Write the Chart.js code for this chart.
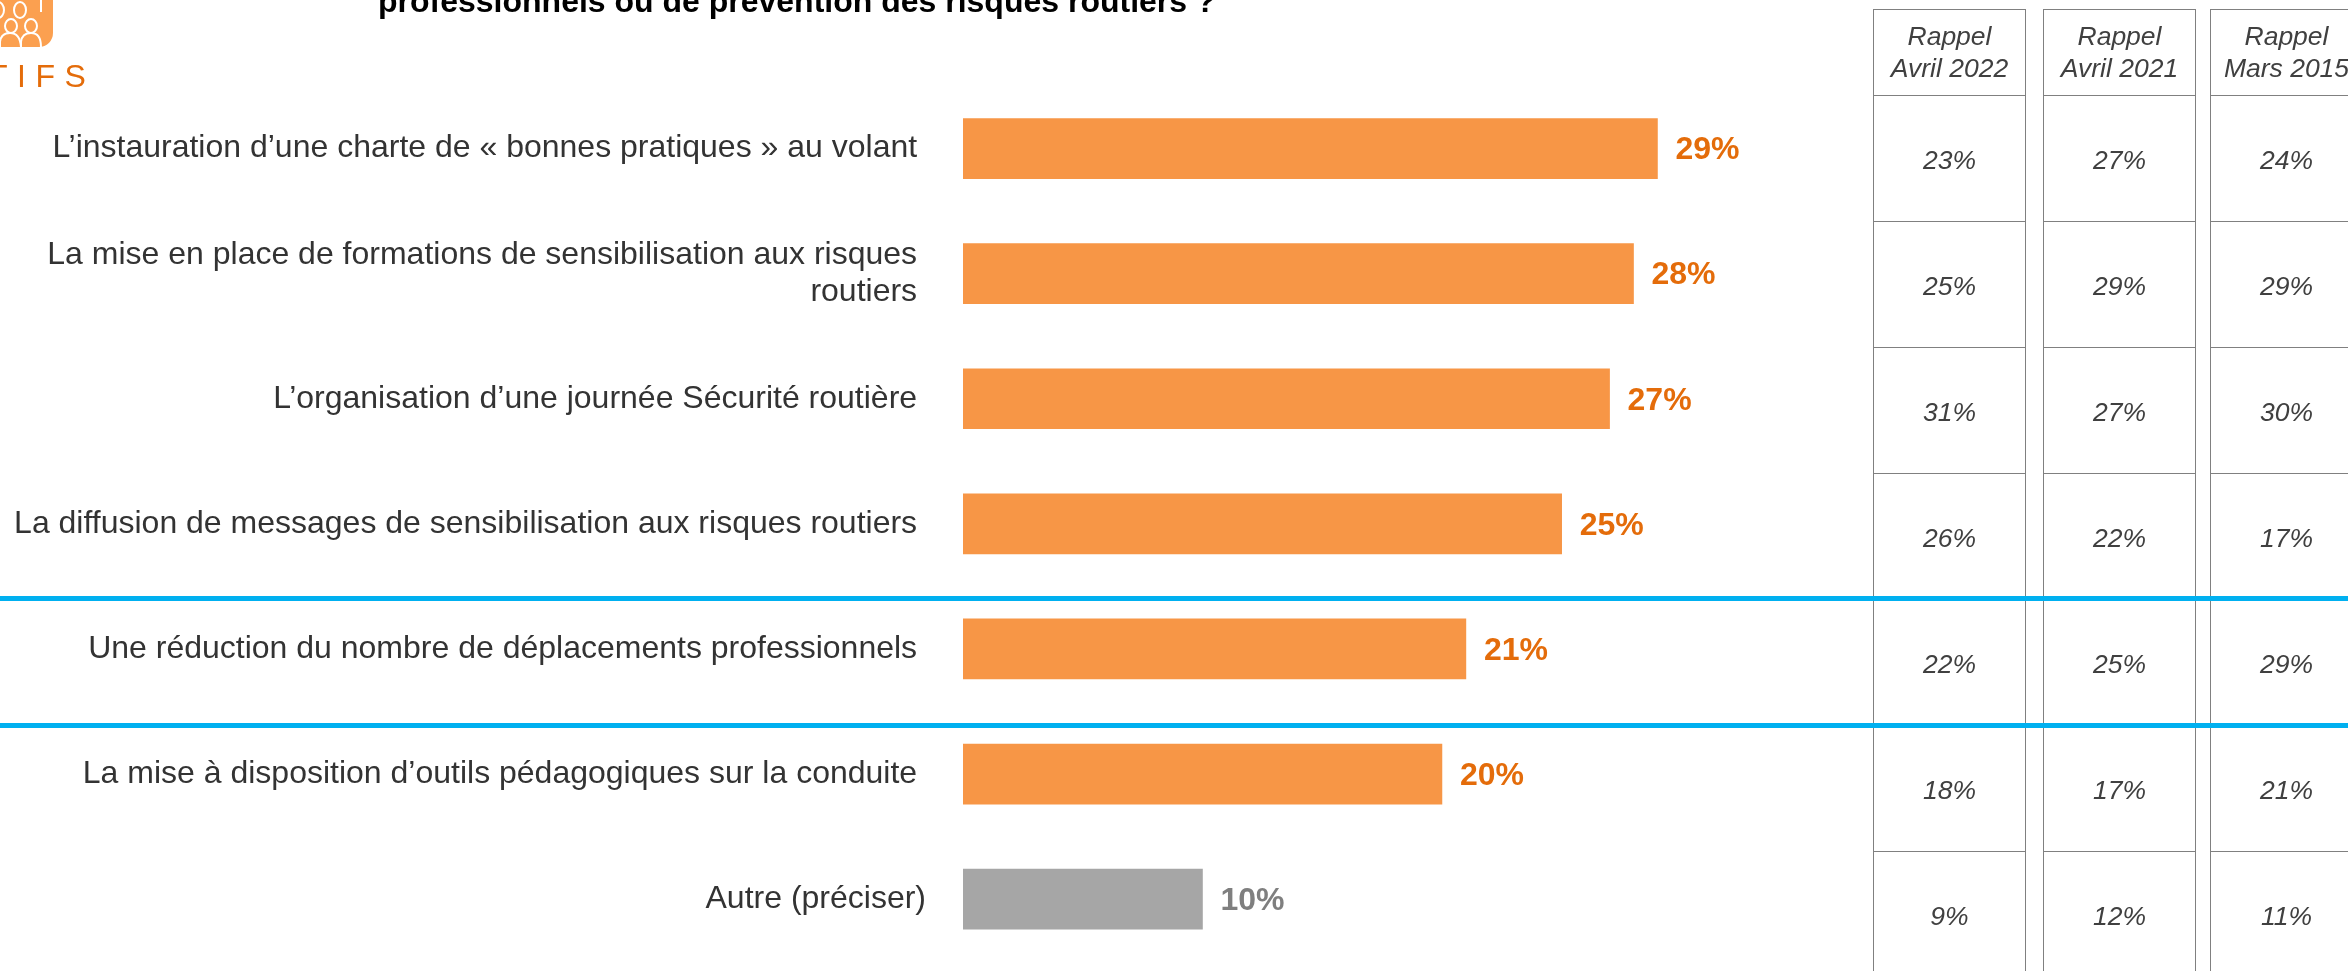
<!DOCTYPE html>
<html lang="fr">
<head>
<meta charset="utf-8">
<title>Actions de prévention des risques routiers</title>
<script src="https://cdn.jsdelivr.net/npm/chart.js@4"></script>
<style>
  html, body { margin: 0; padding: 0; background: #fff; }
  body { position: relative; width: 2348px; height: 971px; overflow: hidden; font-family: "Liberation Sans", Arial, sans-serif; }
  #graphique { position: absolute; left: 0; top: 0; }
  #titre { position: absolute; left: 378px; top: -17px; font-size: 32px; font-weight: bold; color: #000; white-space: nowrap; }
  #logo { position: absolute; left: -60px; top: -60px; }
  #rubrique { position: absolute; left: -12px; top: 60px; font-size: 32px; letter-spacing: 9.5px; color: #E46C0A; line-height: 32px; }
  .colonne { position: absolute; top: 9px; width: 153px; box-sizing: border-box; border: 1px solid #808080; border-bottom: none; font-style: italic; font-size: 26.5px; color: #404040; text-align: center; }
  .entete { height: 86px; box-sizing: border-box; padding-top: 10px; line-height: 32px; border-bottom: 1px solid #808080; }
  .cellule { height: 126px; box-sizing: border-box; line-height: 129px; border-bottom: 1px solid #808080; }
  .filet { position: absolute; left: 0; width: 2348px; height: 5px; background: #00B0F0; }
</style>
</head>
<body>
<canvas id="graphique" width="2348" height="971"></canvas>

<svg id="logo" width="120" height="110" viewBox="-60 -60 120 110">
  <rect x="-40" y="-60" width="93" height="107" rx="14" fill="#FBA050"/>
  <g fill="none" stroke="#fff" stroke-width="2">
    <ellipse cx="-2" cy="10" rx="6" ry="8"/>
    <ellipse cx="20" cy="10" rx="6" ry="8"/>
    <ellipse cx="11" cy="26" rx="6" ry="7"/>
    <ellipse cx="31" cy="26" rx="6" ry="7"/>
    <path d="M0 47 V42 Q1 33 10 33 Q20 33 21 47"/>
    <path d="M21 47 V42 Q22 33 31 33 Q41 33 41 47"/>
    <path d="M41 0 V12"/>
  </g>
</svg>
<div id="rubrique">TIFS</div>
<div id="titre">professionnels ou de prévention des risques routiers ?</div>

<div id="tableaux"></div>
<div class="filet" style="top:596px"></div>
<div class="filet" style="top:723px"></div>

<script>
const categories = [
  "L’instauration d’une charte de « bonnes pratiques » au volant",
  ["La mise en place de formations de sensibilisation aux risques", "routiers"],
  "L’organisation d’une journée Sécurité routière",
  "La diffusion de messages de sensibilisation aux risques routiers",
  "Une réduction du nombre de déplacements professionnels",
  "La mise à disposition d’outils pédagogiques sur la conduite",
  "Autre (préciser)"
];
const valeurs = [29, 28, 27, 25, 21, 20, 10];
const couleursBarres = ["#F79646", "#F79646", "#F79646", "#F79646", "#F79646", "#F79646", "#A6A6A6"];
const couleursValeurs = ["#E46C0A", "#E46C0A", "#E46C0A", "#E46C0A", "#E46C0A", "#E46C0A", "#7F7F7F"];

const enteteRappel = [["Rappel", "Avril 2022"], ["Rappel", "Avril 2021"], ["Rappel", "Mars 2015"]];
const rappel2022 = [23, 25, 31, 26, 22, 18, 9];
const rappel2021 = [27, 29, 27, 22, 25, 17, 12];
const rappel2015 = [24, 29, 30, 17, 29, 21, 11];

// colonnes de rappel a droite
const rappels = [rappel2022, rappel2021, rappel2015];
const gauches = [1873, 2043, 2210];
const tableaux = document.getElementById("tableaux");
rappels.forEach((serie, i) => {
  const col = document.createElement("div");
  col.className = "colonne";
  col.style.left = gauches[i] + "px";
  const entete = document.createElement("div");
  entete.className = "entete";
  entete.innerHTML = enteteRappel[i].join("<br>");
  col.appendChild(entete);
  serie.forEach((v) => {
    const cell = document.createElement("div");
    cell.className = "cellule";
    cell.textContent = v + "%";
    col.appendChild(cell);
  });
  tableaux.appendChild(col);
});

const etiquettesValeurs = {
  id: "etiquettesValeurs",
  afterDatasetsDraw(chart) {
    const ctx = chart.ctx;
    ctx.save();
    ctx.font = "bold 32px 'Liberation Sans', Arial, sans-serif";
    ctx.textAlign = "left";
    ctx.textBaseline = "middle";
    chart.getDatasetMeta(0).data.forEach((bar, i) => {
      ctx.fillStyle = couleursValeurs[i];
      ctx.fillText(valeurs[i] + "%", bar.x + 18, bar.y + 2);
    });
    ctx.restore();
  }
};

new Chart(document.getElementById("graphique").getContext("2d"), {
  type: "bar",
  data: {
    labels: categories,
    datasets: [{
      data: valeurs,
      backgroundColor: couleursBarres,
      barThickness: 60
    }]
  },
  options: {
    indexAxis: "y",
    responsive: false,
    animation: false,
    layout: { padding: { top: 86, bottom: 9.3, right: 44 } },
    plugins: { legend: { display: false }, tooltip: { enabled: false } },
    scales: {
      x: { display: false, min: 0, max: 56 },
      y: {
        afterFit: (scale) => {
          scale.width = 963;
          scale.paddingTop = 0;
          scale.paddingBottom = 0;
        },
        border: { display: false },
        grid: { display: false },
        ticks: {
          autoSkip: false,
          maxRotation: 0,
          minRotation: 0,
          padding: 29,
          color: "#333333",
          font: { family: "'Liberation Sans', Arial, sans-serif", size: 32, lineHeight: 1.18 },
          // espace final sur tous les libelles sauf "Autre", cale plus a droite
          callback(value, index) {
            const label = this.getLabelForValue(value);
            if (index === categories.length - 1) return label;
            return Array.isArray(label) ? label.map((l) => l + "\u00a0") : label + "\u00a0";
          }
        }
      }
    }
  },
  plugins: [etiquettesValeurs]
});
</script>
</body>
</html>
